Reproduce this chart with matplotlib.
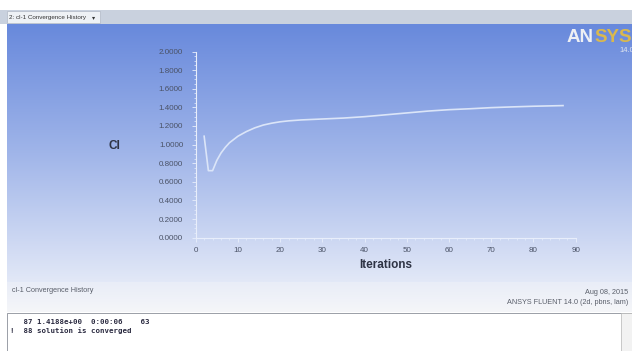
import numpy as np
import matplotlib
matplotlib.use("Agg")
import matplotlib.pyplot as plt
import matplotlib.ticker as mticker
from matplotlib.patches import Rectangle

# ── data ─────────────────────────────────────────────────────────────────────
iterations = [2, 3, 4, 5, 6, 7, 8, 10, 12, 14, 16, 18, 20, 22, 25, 30,
              35, 40, 45, 50, 55, 60, 65, 70, 75, 80, 85, 87]
cl_values = [1.09, 0.72, 0.72, 0.83, 0.91, 0.97, 1.02, 1.09, 1.14, 1.18,
             1.21, 1.23, 1.245, 1.255, 1.265, 1.275, 1.285, 1.30, 1.32,
             1.34, 1.36, 1.375, 1.385, 1.397, 1.405, 1.412, 1.417, 1.419]

x_ticks = [0, 10, 20, 30, 40, 50, 60, 70, 80, 90]
y_ticks = [0.0, 0.2, 0.4, 0.6, 0.8, 1.0, 1.2, 1.4, 1.6, 1.8, 2.0]

console_lines = ["   87 1.4188e+00  0:00:06    63",
                 "!  88 solution is converged"]

W, H = 632, 351
C_TEXT = "#4a5266"
C_AXIS = "#e8eefb"
C_LINE = "#dbe5f8"
C_FOOT = "#5a5f6a"

fig = plt.figure(figsize=(W / 100, H / 100), dpi=100, facecolor="white")

# ── window chrome / background (pixel coordinates) ───────────────────────────
bg = fig.add_axes([0, 0, 1, 1])
bg.axis("off")

# tab bar
bg.add_patch(Rectangle((0, 10), W, 14, color="#c9d1de", lw=0))
bg.add_patch(Rectangle((7, 11), 93, 12, facecolor="#eef1f5", edgecolor="#b0b8c6", lw=0.5))
bg.text(9, 17.5, "2: cl-1 Convergence History", fontsize=4.5, color="#333333",
        va="center", family="Liberation Sans")
bg.text(92, 17.5, "\u25be", fontsize=4.5, color="#333333", va="center")

# blue gradient graphics window
top = np.array([104, 137, 220]) / 255
mid = np.array([160, 181, 233]) / 255
bot = np.array([226, 232, 247]) / 255
t = np.linspace(0, 1, 200)[:, None]
grad = np.where(t < 0.5, top + (mid - top) * (t / 0.5), mid + (bot - mid) * ((t - 0.5) / 0.5))
bg.imshow(grad[:, None, :].repeat(2, axis=1), extent=(7, W, 282, 24), aspect="auto",
          interpolation="bilinear", zorder=0)
low_top = np.array([233, 237, 247]) / 255
low_bot = np.array([245, 246, 249]) / 255
t2 = np.linspace(0, 1, 50)[:, None]
grad2 = low_top + (low_bot - low_top) * t2
bg.imshow(grad2[:, None, :].repeat(2, axis=1), extent=(7, W, 312, 282), aspect="auto",
          interpolation="bilinear", zorder=0)
bg.set_xlim(0, W)
bg.set_ylim(H, 0)

# ANSYS logo (cut off at the right edge, as in the screenshot)
bg.text(567, 38, "AN", fontsize=13.5, fontweight="bold", color="#eef0f4",
        va="center", family="Liberation Sans")
bg.text(594.5, 38, "SYS", fontsize=13.5, fontweight="bold", color="#d9b84e",
        va="center", family="Liberation Sans")
bg.text(619, 50, "14.0", fontsize=5.5, color="#dfe4ee", va="center", family="Liberation Sans")

# footer texts
bg.text(12, 291, "cl-1 Convergence History", fontsize=5.2, color=C_FOOT,
        va="center", family="Liberation Sans")
bg.text(628, 292, "Aug 08, 2015", fontsize=5.2, color=C_FOOT,
        va="center", ha="right", family="Liberation Sans")
bg.text(628, 302, "ANSYS FLUENT 14.0 (2d, pbns, lam)", fontsize=5.2, color=C_FOOT,
        va="center", ha="right", family="Liberation Sans")

# console
bg.add_patch(Rectangle((7, 313), W, 45, facecolor="white", edgecolor="#8a8f99", lw=0.6))
bg.add_patch(Rectangle((621, 313), 12, 45, facecolor="#f2f2f2", edgecolor="#b5b5b5", lw=0.5))
for i, line in enumerate(console_lines):
    bg.text(10, 322 + i * 9, line, fontsize=5.3, color="#2a2a40", fontweight="bold",
            va="center", family="DejaVu Sans Mono")

# ── the convergence plot ─────────────────────────────────────────────────────
ax = fig.add_axes([195.7 / W, 1 - 237.7 / H, 380 / W, 186.2 / H])
ax.patch.set_alpha(0)
ax.plot(iterations, cl_values, color=C_LINE, lw=1.2, solid_joinstyle="round")
ax.set_xlim(0, 90)
ax.set_ylim(0, 2)
for side in ("top", "right"):
    ax.spines[side].set_visible(False)
for side in ("left", "bottom"):
    ax.spines[side].set_color(C_AXIS)
    ax.spines[side].set_linewidth(0.8)

ax.set_xticks(x_ticks)
ax.set_yticks(y_ticks)
ax.yaxis.set_major_formatter(mticker.FormatStrFormatter("%.4f"))
ax.xaxis.set_minor_locator(mticker.MultipleLocator(2))
ax.yaxis.set_minor_locator(mticker.MultipleLocator(0.05))
ax.tick_params(which="major", length=3, width=0.6, color=C_AXIS,
               labelsize=5.8, labelcolor=C_TEXT, pad=6)
ax.tick_params(axis="x", which="major", pad=3.5)
ax.tick_params(which="minor", length=1.5, width=0.5, color=C_AXIS)
for lab in ax.get_xticklabels() + ax.get_yticklabels():
    lab.set_family("Liberation Sans")

ax.set_xlabel("Iterations", fontsize=8.5, fontweight="bold", color="#2e3344",
              family="Liberation Sans", labelpad=4)
ax.set_ylabel("Cl", fontsize=8.5, fontweight="bold", color="#2e3344",
              family="Liberation Sans", rotation=0, va="center", labelpad=0)
ax.yaxis.set_label_coords(-0.215, 0.49)

fig.savefig("out.png", dpi=100, facecolor="white")
